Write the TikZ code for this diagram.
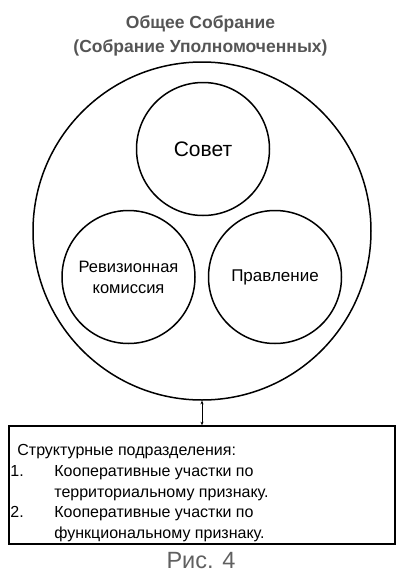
\documentclass[tikz,border=0pt]{standalone}
\usepackage{fontspec}
\setmainfont{Liberation Sans}
\usetikzlibrary{arrows.meta}
\definecolor{titleGray}{RGB}{85,85,85}
\definecolor{captionGray}{RGB}{96,96,96}

\begin{document}
\begin{tikzpicture}[x=1pt,y=-1pt,
  organ/.style={circle,draw=black,line width=1.5pt,minimum size=133pt,inner sep=0pt,align=center,font=\fontsize{17}{21}\selectfont},
  unitbox/.style={draw=black,line width=1.6pt,minimum width=386pt,minimum height=118pt,inner sep=0pt}]
\useasboundingbox (0,0) rectangle (402,574);
\node[font=\bfseries\fontsize{17.5}{24.5}\selectfont,text=titleGray,align=center] (title) at (200.5,36) {Общее Собрание\\(Собрание Уполномоченных)};
\node[circle,draw=black,line width=1.5pt,minimum size=338pt,inner sep=0pt] (assembly) at (202,231) {};
\node[organ,font=\fontsize{21}{24}\selectfont] (council) at (203,149) {Совет};
\node[organ,font=\fontsize{16.5}{21}\selectfont] (audit) at (128.5,277) {Ревизионная\\комиссия};
\node[organ] (board) at (275,277) {Правление};
\node[unitbox] (units) at (202,485) {};
\node[anchor=north west,inner sep=0pt,font=\fontsize{16}{20.7}\selectfont] (unitslist) at ([xshift=2pt,yshift=-16pt]units.north west) {%
\begin{tabular}{@{}l@{}l@{}}
\multicolumn{2}{@{}l@{}}{\hspace{7pt}Структурные подразделения:}\\
\makebox[44pt][l]{1.} & Кооперативные участки по\\
 & территориальному признаку.\\
\makebox[44pt][l]{2.} & Кооперативные участки по\\
 & функциональному признаку.
\end{tabular}};
\draw[{Stealth[length=3.5pt,width=3pt]}-{Stealth[length=3.5pt,width=3pt]},line width=0.5pt] (assembly.south) -- (units.north);
\node[text=captionGray,font=\fontsize{23.5}{26}\selectfont] (caption) at (201,561) {Рис. 4};
\end{tikzpicture}
\end{document}
